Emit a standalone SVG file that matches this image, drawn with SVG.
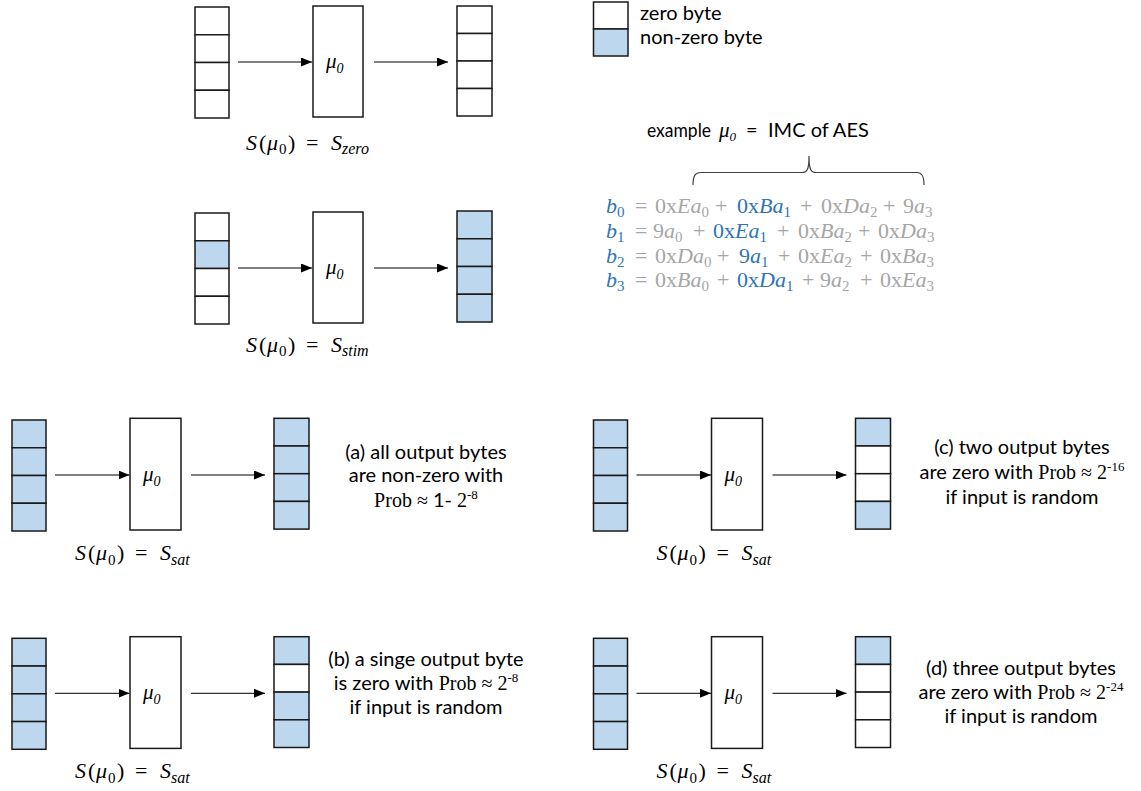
<svg xmlns="http://www.w3.org/2000/svg" width="1141" height="791" viewBox="0 0 1141 791">
<style>
.c{fill:#fff;stroke:#1a1a1a;stroke-width:1.5}
.n{fill:#BDD7EE;stroke:#1a1a1a;stroke-width:1.5}
.box{fill:#fff;stroke:#1a1a1a;stroke-width:1.5}
.ar{stroke:#000;stroke-width:1;fill:none;marker-end:url(#ah)}
.t{font-family:Lato,"Liberation Sans",sans-serif;font-size:20px;fill:#000}
.up{font-style:normal}
.tnr{font-family:"Liberation Serif",serif}
.eq{font-family:"Liberation Serif",serif;font-size:22px;font-style:italic}
.g{fill:#A6A6A6}
.b{fill:#2E75B6}
.s{font-size:15px;font-style:normal}
.mu{font-family:"Liberation Serif",serif;font-style:italic;font-size:21px}
.lab{font-family:"Liberation Serif",serif;font-size:22px;font-style:italic}
</style>
<defs>
<marker id="ah" markerUnits="userSpaceOnUse" markerWidth="11" markerHeight="9" refX="11" refY="4.5" orient="auto">
<path d="M0,0 L11,4.5 L0,9 z" fill="#000"/>
</marker>
</defs>

<!-- legend -->
<g id="legend">
<rect class="c" x="593.5" y="2" width="34.5" height="27"/>
<rect class="n" x="593.5" y="29" width="34.5" height="27"/>
<text class="t" x="640" y="20">zero byte</text>
<text class="t" x="640" y="44">non-zero byte</text>
</g>

<!-- row 1 -->
<g id="r1-in">
<rect class="c" x="195" y="7" width="34" height="27.75"/>
<rect class="c" x="195" y="34.75" width="34" height="27.75"/>
<rect class="c" x="195" y="62.5" width="34" height="27.75"/>
<rect class="c" x="195" y="90.25" width="34" height="27.75"/>
</g>
<g id="r1-mu">
<rect class="box" x="313" y="6" width="50" height="111"/>
<text class="mu" x="326" y="68">μ<tspan font-size="14" dy="5">0</tspan></text>
</g>
<g id="r1-out">
<rect class="c" x="457" y="6" width="35" height="27.5"/>
<rect class="c" x="457" y="33.5" width="35" height="27.5"/>
<rect class="c" x="457" y="61" width="35" height="27.5"/>
<rect class="c" x="457" y="88.5" width="35" height="27.5"/>
</g>
<g id="r1-label">
<text class="lab" y="149.5"><tspan x="246">S</tspan><tspan class="up" x="259">(</tspan><tspan x="267">μ</tspan><tspan class="s" x="279" dy="4.5">0</tspan><tspan class="up" x="288" dy="-4.5">)</tspan><tspan class="up" x="306">=</tspan><tspan x="331">S</tspan><tspan font-size="16" dy="4.5">zero</tspan></text>
</g>

<!-- row 2 -->
<g id="r2-in">
<rect class="c" x="195" y="213" width="34" height="27.75"/>
<rect class="n" x="195" y="240.75" width="34" height="27.75"/>
<rect class="c" x="195" y="268.5" width="34" height="27.75"/>
<rect class="c" x="195" y="296.25" width="34" height="27.75"/>
</g>
<g id="r2-mu">
<rect class="box" x="313" y="212" width="50" height="111"/>
<text class="mu" x="326" y="274">μ<tspan font-size="14" dy="5">0</tspan></text>
</g>
<g id="r2-out">
<rect class="n" x="457" y="211" width="35" height="27.75"/>
<rect class="n" x="457" y="238.75" width="35" height="27.75"/>
<rect class="n" x="457" y="266.5" width="35" height="27.75"/>
<rect class="n" x="457" y="294.25" width="35" height="27.75"/>
</g>
<g id="r2-label">
<text class="lab" y="351.5"><tspan x="246">S</tspan><tspan class="up" x="259">(</tspan><tspan x="267">μ</tspan><tspan class="s" x="279" dy="4.5">0</tspan><tspan class="up" x="288" dy="-4.5">)</tspan><tspan class="up" x="306">=</tspan><tspan x="331">S</tspan><tspan font-size="16" dy="4.5">stim</tspan></text>
</g>

<!-- example -->
<g id="example">
<text class="t" x="647" y="137" font-size="18.5" textLength="64" lengthAdjust="spacingAndGlyphs">example</text>
<text class="mu" x="719" y="137" font-size="20">μ<tspan font-size="13" dy="4">0</tspan></text>
<text class="t" x="746" y="137">=</text>
<text class="t" x="768" y="137">IMC of AES</text>
<path d="M693,185 C693,176 695,172.5 701,172.5 L802,172.5 C807,172.5 809,170 809,156 C809,170 811,172.5 816,172.5 L917,172.5 C922,172.5 924,176 924,185" fill="none" stroke="#404040" stroke-width="1.2"/>
</g>

<g id="equations" class="eq">
<text y="213"><tspan class="b" x="606">b</tspan><tspan class="b s" dy="4">0</tspan><tspan class="g up" x="635" dy="-4">=</tspan><tspan class="g up" x="655">0x</tspan><tspan class="g">Ea</tspan><tspan class="g s" dy="4">0</tspan><tspan class="g up" x="715" dy="-4">+</tspan><tspan class="b up" x="737">0x</tspan><tspan class="b">Ba</tspan><tspan class="b s" dy="4">1</tspan><tspan class="g up" x="800" dy="-4">+</tspan><tspan class="g up" x="821">0x</tspan><tspan class="g">Da</tspan><tspan class="g s" dy="4">2</tspan><tspan class="g up" x="883" dy="-4">+</tspan><tspan class="g up" x="903">9</tspan><tspan class="g">a</tspan><tspan class="g s" dy="4">3</tspan></text>
<text y="238"><tspan class="b" x="606">b</tspan><tspan class="b s" dy="4">1</tspan><tspan class="g up" x="635" dy="-4">=</tspan><tspan class="g up" x="653">9</tspan><tspan class="g">a</tspan><tspan class="g s" dy="4">0</tspan><tspan class="g up" x="693" dy="-4">+</tspan><tspan class="b up" x="713">0x</tspan><tspan class="b">Ea</tspan><tspan class="b s" dy="4">1</tspan><tspan class="g up" x="777" dy="-4">+</tspan><tspan class="g up" x="798">0x</tspan><tspan class="g">Ba</tspan><tspan class="g s" dy="4">2</tspan><tspan class="g up" x="858" dy="-4">+</tspan><tspan class="g up" x="878">0x</tspan><tspan class="g">Da</tspan><tspan class="g s" dy="4">3</tspan></text>
<text y="263"><tspan class="b" x="606">b</tspan><tspan class="b s" dy="4">2</tspan><tspan class="g up" x="635" dy="-4">=</tspan><tspan class="g up" x="655">0x</tspan><tspan class="g">Da</tspan><tspan class="g s" dy="4">0</tspan><tspan class="g up" x="717" dy="-4">+</tspan><tspan class="b up" x="739">9</tspan><tspan class="b">a</tspan><tspan class="b s" dy="4">1</tspan><tspan class="g up" x="778" dy="-4">+</tspan><tspan class="g up" x="798">0x</tspan><tspan class="g">Ea</tspan><tspan class="g s" dy="4">2</tspan><tspan class="g up" x="860" dy="-4">+</tspan><tspan class="g up" x="880">0x</tspan><tspan class="g">Ba</tspan><tspan class="g s" dy="4">3</tspan></text>
<text y="287"><tspan class="b" x="606">b</tspan><tspan class="b s" dy="4">3</tspan><tspan class="g up" x="635" dy="-4">=</tspan><tspan class="g up" x="655">0x</tspan><tspan class="g">Ba</tspan><tspan class="g s" dy="4">0</tspan><tspan class="g up" x="717" dy="-4">+</tspan><tspan class="b up" x="737">0x</tspan><tspan class="b">Da</tspan><tspan class="b s" dy="4">1</tspan><tspan class="g up" x="802" dy="-4">+</tspan><tspan class="g up" x="820">9</tspan><tspan class="g">a</tspan><tspan class="g s" dy="4">2</tspan><tspan class="g up" x="860" dy="-4">+</tspan><tspan class="g up" x="880">0x</tspan><tspan class="g">Ea</tspan><tspan class="g s" dy="4">3</tspan></text>
</g>

<!-- row a -->
<g id="ra-in">
<rect class="n" x="12" y="420" width="34" height="27.75"/>
<rect class="n" x="12" y="447.75" width="34" height="27.75"/>
<rect class="n" x="12" y="475.5" width="34" height="27.75"/>
<rect class="n" x="12" y="503.25" width="34" height="27.75"/>
</g>
<g id="ra-mu">
<rect class="box" x="130" y="418.3" width="51" height="111.7"/>
<text class="mu" x="143" y="480.5">μ<tspan font-size="14" dy="5">0</tspan></text>
</g>
<g id="ra-out">
<rect class="n" x="274" y="418.3" width="35" height="27.7"/>
<rect class="n" x="274" y="446" width="35" height="27.7"/>
<rect class="n" x="274" y="473.7" width="35" height="27.7"/>
<rect class="n" x="274" y="501.4" width="35" height="27.7"/>
</g>
<g id="ra-label">
<text class="lab" y="560"><tspan x="75">S</tspan><tspan class="up" x="88">(</tspan><tspan x="96">μ</tspan><tspan class="s" x="108" dy="4.5">0</tspan><tspan class="up" x="117" dy="-4.5">)</tspan><tspan class="up" x="135">=</tspan><tspan x="160">S</tspan><tspan font-size="16" dy="4.5">sat</tspan></text>
</g>
<g id="ra-text" class="t" text-anchor="middle">
<text x="426" y="458.5">(a) all output bytes</text>
<text x="426" y="482">are non-zero with</text>
<text x="426" y="506.5"><tspan class="tnr">Prob ≈ </tspan>1- <tspan class="tnr">2</tspan><tspan class="tnr" font-size="13" dy="-8">-8</tspan></text>
</g>

<!-- row c -->
<g id="rc-in">
<rect class="n" x="593.5" y="420" width="34" height="27.75"/>
<rect class="n" x="593.5" y="447.75" width="34" height="27.75"/>
<rect class="n" x="593.5" y="475.5" width="34" height="27.75"/>
<rect class="n" x="593.5" y="503.25" width="34" height="27.75"/>
</g>
<g id="rc-mu">
<rect class="box" x="711.5" y="418.3" width="51" height="111.7"/>
<text class="mu" x="724.5" y="480.5">μ<tspan font-size="14" dy="5">0</tspan></text>
</g>
<g id="rc-out">
<rect class="n" x="855.5" y="418.3" width="35" height="27.7"/>
<rect class="c" x="855.5" y="446" width="35" height="27.7"/>
<rect class="c" x="855.5" y="473.7" width="35" height="27.7"/>
<rect class="n" x="855.5" y="501.4" width="35" height="27.7"/>
</g>
<g id="rc-label">
<text class="lab" y="560"><tspan x="656.5">S</tspan><tspan class="up" x="669.5">(</tspan><tspan x="677.5">μ</tspan><tspan class="s" x="689.5" dy="4.5">0</tspan><tspan class="up" x="698.5" dy="-4.5">)</tspan><tspan class="up" x="716.5">=</tspan><tspan x="741.5">S</tspan><tspan font-size="16" dy="4.5">sat</tspan></text>
</g>
<g id="rc-text" class="t" text-anchor="middle">
<text x="1022" y="454">(c) two output bytes</text>
<text x="1022" y="479">are zero with <tspan class="tnr">Prob ≈ 2</tspan><tspan class="tnr" font-size="13" dy="-8">-16</tspan></text>
<text x="1022" y="504">if input is random</text>
</g>

<!-- row b -->
<g id="rb-in">
<rect class="n" x="12" y="638.3" width="34" height="27.75"/>
<rect class="n" x="12" y="666.05" width="34" height="27.75"/>
<rect class="n" x="12" y="693.8" width="34" height="27.75"/>
<rect class="n" x="12" y="721.55" width="34" height="27.75"/>
</g>
<g id="rb-mu">
<rect class="box" x="130" y="636.7" width="51" height="111.7"/>
<text class="mu" x="143" y="698.8">μ<tspan font-size="14" dy="5">0</tspan></text>
</g>
<g id="rb-out">
<rect class="n" x="274" y="636.7" width="35" height="27.7"/>
<rect class="c" x="274" y="664.4" width="35" height="27.7"/>
<rect class="n" x="274" y="692.1" width="35" height="27.7"/>
<rect class="n" x="274" y="719.8" width="35" height="27.7"/>
</g>
<g id="rb-label">
<text class="lab" y="778"><tspan x="75">S</tspan><tspan class="up" x="88">(</tspan><tspan x="96">μ</tspan><tspan class="s" x="108" dy="4.5">0</tspan><tspan class="up" x="117" dy="-4.5">)</tspan><tspan class="up" x="135">=</tspan><tspan x="160">S</tspan><tspan font-size="16" dy="4.5">sat</tspan></text>
</g>
<g id="rb-text" class="t" text-anchor="middle">
<text x="426" y="666">(b) a singe output byte</text>
<text x="426" y="690">is zero with <tspan class="tnr">Prob ≈ 2</tspan><tspan class="tnr" font-size="13" dy="-8">-8</tspan></text>
<text x="426" y="714">if input is random</text>
</g>

<!-- row d -->
<g id="rd-in">
<rect class="n" x="593.5" y="638.3" width="34" height="27.75"/>
<rect class="n" x="593.5" y="666.05" width="34" height="27.75"/>
<rect class="n" x="593.5" y="693.8" width="34" height="27.75"/>
<rect class="n" x="593.5" y="721.55" width="34" height="27.75"/>
</g>
<g id="rd-mu">
<rect class="box" x="711.5" y="636.7" width="51" height="111.7"/>
<text class="mu" x="724.5" y="698.8">μ<tspan font-size="14" dy="5">0</tspan></text>
</g>
<g id="rd-out">
<rect class="n" x="855.5" y="636.7" width="35" height="27.7"/>
<rect class="c" x="855.5" y="664.4" width="35" height="27.7"/>
<rect class="c" x="855.5" y="692.1" width="35" height="27.7"/>
<rect class="c" x="855.5" y="719.8" width="35" height="27.7"/>
</g>
<g id="rd-label">
<text class="lab" y="778"><tspan x="656.5">S</tspan><tspan class="up" x="669.5">(</tspan><tspan x="677.5">μ</tspan><tspan class="s" x="689.5" dy="4.5">0</tspan><tspan class="up" x="698.5" dy="-4.5">)</tspan><tspan class="up" x="716.5">=</tspan><tspan x="741.5">S</tspan><tspan font-size="16" dy="4.5">sat</tspan></text>
</g>
<g id="rd-text" class="t" text-anchor="middle">
<text x="1021" y="675">(d) three output bytes</text>
<text x="1021" y="699">are zero with <tspan class="tnr">Prob ≈ 2</tspan><tspan class="tnr" font-size="13" dy="-8">-24</tspan></text>
<text x="1021" y="723">if input is random</text>
</g>

<g id="connectors">
<line class="ar" x1="238" y1="62" x2="312" y2="62"/>
<line class="ar" x1="374" y1="62" x2="448" y2="62"/>
<line class="ar" x1="238" y1="268" x2="312" y2="268"/>
<line class="ar" x1="374" y1="268" x2="448" y2="268"/>
<line class="ar" x1="55" y1="475" x2="129.5" y2="475"/>
<line class="ar" x1="191" y1="475" x2="265" y2="475"/>
<line class="ar" x1="636.5" y1="475" x2="711" y2="475"/>
<line class="ar" x1="772.5" y1="475" x2="846.5" y2="475"/>
<line class="ar" x1="55" y1="693.3" x2="129.5" y2="693.3"/>
<line class="ar" x1="191" y1="693.3" x2="265" y2="693.3"/>
<line class="ar" x1="636.5" y1="693.3" x2="711" y2="693.3"/>
<line class="ar" x1="772.5" y1="693.3" x2="846.5" y2="693.3"/>
</g>
</svg>
